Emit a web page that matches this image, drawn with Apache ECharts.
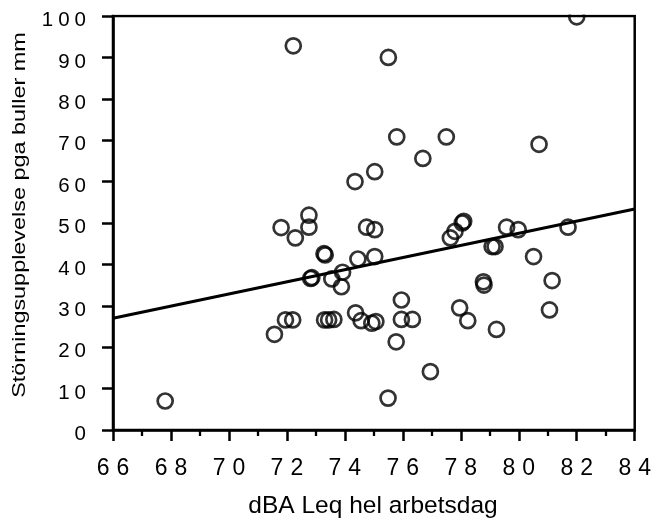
<!DOCTYPE html>
<html>
<head>
<meta charset="utf-8">
<script src="https://cdn.jsdelivr.net/npm/echarts@6/dist/echarts.min.js"></script>
<style>
  html, body { margin: 0; padding: 0; background: #fff; overflow: hidden; }
  #chart { width: 654px; height: 525px; }
</style>
</head>
<body>
<div id="chart"></div>
<script>
// Noise exposure (dBA Leq, whole working day) per worker
const noiseLevel = [67.8, 71.57, 71.8, 71.95, 72.2, 72.22, 72.29, 72.76, 72.76, 72.82,
  72.86, 73.28, 73.32, 73.3, 73.44, 73.62, 73.55, 73.92, 73.88, 74.35,
  74.37, 74.45, 74.56, 74.75, 74.93, 75.03, 75.03, 75.03, 75.07, 75.5,
  75.49, 75.77, 75.79, 75.95, 75.95, 76.33, 76.69, 76.95, 77.5, 77.64,
  77.8, 78.05, 78.1, 77.96, 78.24, 78.8, 78.78, 79.08, 79.18, 79.23,
  79.58, 79.98, 80.51, 80.7, 81.06, 81.15, 81.7, 82.0];

// Perceived disturbance from noise (VAS, mm)
const disturbance = [7.0, 23.1, 48.9, 26.6, 26.6, 92.8, 46.4, 49.0, 51.9, 36.6,
  36.8, 42.6, 42.3, 26.6, 26.6, 26.7, 36.5, 38.1, 34.6, 60.0,
  28.3, 41.3, 26.4, 49.0, 25.8, 62.4, 48.4, 41.9, 26.2, 90.0,
  7.7, 21.3, 70.8, 31.4, 26.7, 26.7, 65.6, 14.1, 70.8, 46.4,
  48.0, 50.0, 50.4, 29.5, 26.4, 35.0, 35.8, 44.3, 44.3, 24.3,
  49.0, 48.4, 41.9, 69.0, 29.0, 36.1, 49.0, 99.8];

// Linear regression line end points
const fitX = [66, 84];
const fitY = [27.0, 53.4];

// Axis ranges
const xRange = [66, 84, 2];
const yRange = [0, 100, 10];

const xTitle = 'dBA Leq hel arbetsdag';
const yTitle = 'Störningsupplevelse pga buller mm';

const FONT = '"Liberation Sans", Arial, Helvetica, sans-serif';

// Spread the digits of a tick value apart
function spaced(v) {
  const s = String(v);
  let out = '{f|' + s[0] + '}';
  for (let i = 1; i < s.length; i++) out += '{s|' + s[i] + '}';
  return out;
}

const points = noiseLevel.map((x, i) => [x, disturbance[i]]);
const fitLine = fitX.map((x, i) => [x, fitY[i]]);

const chart = echarts.init(document.getElementById('chart'), null, {
  renderer: 'canvas', width: 654, height: 525
});

chart.setOption({
  animation: false,
  backgroundColor: '#fff',
  grid: {
    left: 113, top: 16, width: 526, height: 414,
    show: true, borderColor: '#000', borderWidth: 2.5, backgroundColor: 'transparent'
  },
  xAxis: {
    type: 'value',
    min: xRange[0], max: xRange[1], interval: xRange[2],
    axisLine: { show: true, onZero: false, lineStyle: { color: '#000', width: 2.6 } },
    axisTick: { show: true, inside: false, length: 11, lineStyle: { color: '#000', width: 2.5 } },
    minorTick: { show: true, splitNumber: 2, length: 6, lineStyle: { color: '#000', width: 2.3 } },
    splitLine: { show: false },
    axisLabel: {
      margin: 27,
      formatter: spaced,
      rich: {
        f: { fontFamily: FONT, fontSize: 23, color: '#000' },
        s: { fontFamily: FONT, fontSize: 23, color: '#000', padding: [0, 0, 0, 7] }
      }
    }
  },
  yAxis: {
    type: 'value',
    min: yRange[0], max: yRange[1], interval: yRange[2],
    axisLine: { show: true, onZero: false, lineStyle: { color: '#000', width: 2.6 } },
    axisTick: { show: true, inside: false, length: 11, lineStyle: { color: '#000', width: 2.5 } },
    splitLine: { show: false },
    axisLabel: {
      margin: 27,
      padding: [9, 0, 0, 0],
      formatter: spaced,
      rich: {
        f: { fontFamily: FONT, fontSize: 20.5, color: '#000' },
        s: { fontFamily: FONT, fontSize: 20.5, color: '#000', padding: [0, 0, 0, 5] }
      }
    }
  },
  graphic: [
    {
      // hides the part of a marker that rises above the frame
      type: 'rect', z: 50,
      shape: { x: 113, y: 0, width: 541, height: 14.6 },
      style: { fill: '#fff' }
    },
    {
      type: 'text', z: 60,
      x: 373, y: 506,
      style: {
        text: xTitle, fontFamily: FONT, fontSize: 24.5, fill: '#000',
        align: 'center', verticalAlign: 'middle'
      }
    },
    {
      type: 'text', z: 60,
      x: 20, y: 215,
      rotation: Math.PI / 2,
      scaleX: 1.28,
      style: {
        text: yTitle, fontFamily: FONT, fontSize: 18.3, fill: '#000',
        align: 'center', verticalAlign: 'middle'
      }
    }
  ],
  series: [
    {
      type: 'line',
      data: fitLine,
      showSymbol: false,
      symbol: 'none',
      lineStyle: { color: '#000', width: 3 },
      z: 2
    },
    {
      type: 'scatter',
      data: points,
      symbol: 'circle',
      symbolSize: 15,
      itemStyle: { color: 'rgba(0,0,0,0)', borderColor: '#000', borderWidth: 2.7 },
      z: 3
    }
  ]
});
</script>
</body>
</html>
